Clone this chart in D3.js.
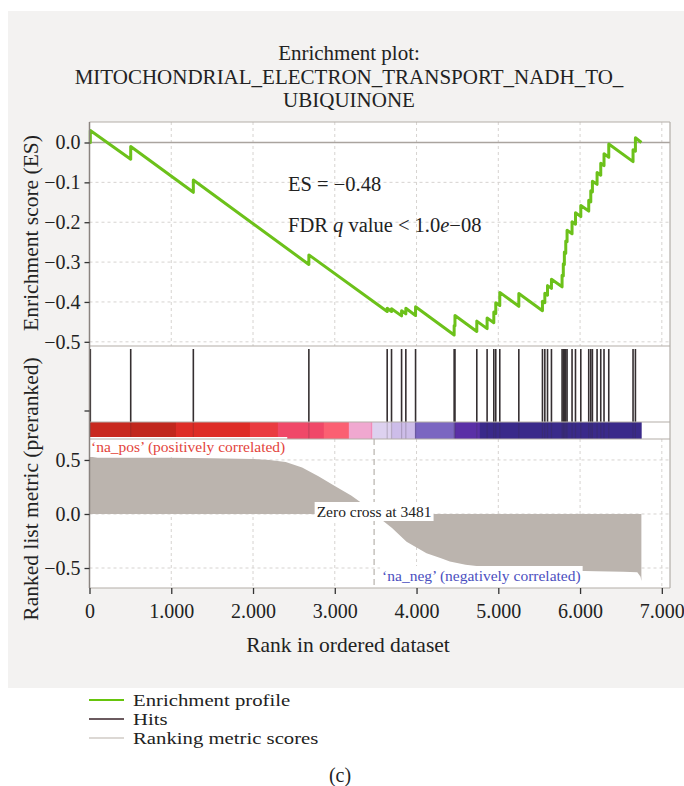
<!DOCTYPE html>
<html>
<head>
<meta charset="utf-8">
<script src="https://cdn.jsdelivr.net/npm/d3@7"></script>
<style>
  body { margin: 0; background: #ffffff; }
  svg { display: block; }
  text { font-family: "Liberation Serif", "Times New Roman", serif; }
</style>
</head>
<body>
<svg id="chart" width="684" height="786"></svg>
<script>
// ---- Gene set hits (rank positions in the ordered list) ----
const hitRanks = [10, 504, 1270, 2683, 3641, 3694, 3817, 3869, 3988, 4460, 4470, 4737,
  4863, 4945, 4969, 5018, 5251, 5540, 5569, 5602, 5650, 5780, 5795, 5808, 5825, 5841,
  5902, 5944, 6009, 6106, 6131, 6151, 6208, 6253, 6293, 6351, 6648, 6677];

// Running enrichment score just before and just after each hit
const esBefore = [0.000, -0.042, -0.125, -0.306, -0.424, -0.424, -0.435, -0.430, -0.434,
  -0.483, -0.460, -0.474, -0.467, -0.452, -0.429, -0.409, -0.411, -0.422, -0.402, -0.383,
  -0.366, -0.362, -0.335, -0.306, -0.278, -0.249, -0.229, -0.205, -0.186, -0.172, -0.149,
  -0.124, -0.105, -0.082, -0.058, -0.037, -0.048, -0.022];
const esAfter = [0.030, -0.010, -0.094, -0.282, -0.416, -0.417, -0.422, -0.416, -0.412,
  -0.459, -0.434, -0.448, -0.440, -0.425, -0.402, -0.376, -0.379, -0.398, -0.378, -0.359,
  -0.343, -0.333, -0.304, -0.275, -0.247, -0.220, -0.199, -0.176, -0.158, -0.145, -0.121,
  -0.097, -0.075, -0.052, -0.028, -0.004, -0.018, 0.012];

const totalGenes = 6750;
const zeroCross = 3481;
const esLabel = "ES = \u22120.48";

// ---- Ranked list metric (preranked) ----
const metricRanks = [0, 12, 15, 100, 500, 1000, 1500, 2000, 2200, 2400, 2600, 2800, 3000,
  3200, 3350, 3481, 3600, 3700, 3878, 4000, 4122, 4300, 4407, 4600, 4814, 5000, 5303,
  5600, 5915, 6200, 6526, 6700, 6740, 6750];
const metricValues = [0.60, 0.60, 0.53, 0.52, 0.52, 0.52, 0.515, 0.51, 0.50, 0.48, 0.43,
  0.35, 0.26, 0.17, 0.09, 0.0, -0.07, -0.13, -0.256, -0.31, -0.364, -0.41, -0.44, -0.47,
  -0.488, -0.50, -0.512, -0.52, -0.525, -0.53, -0.534, -0.54, -0.58, -0.62];

// ---- Heat bar under the hits ----
const barBreaks = [0, 504, 1057, 1962, 2304, 2866, 3172, 3441, 3460, 3698, 3980, 4468, 4774, 6750];
const barColors = ["#c8291f", "#c1271d", "#de2c26", "#ea3b40", "#f04868", "#fb6072",
  "#f0a8d0", "#f28ab8", "#ddd1ef", "#cdbde9", "#7b66c1", "#5a2fa6", "#3a2a8a"];

// ---- Axis ticks ----
const esTicks = [0.0, -0.1, -0.2, -0.3, -0.4, -0.5];
const metricTicks = [0.5, 0.0, -0.5];
const rankTicks = [0, 1000, 2000, 3000, 4000, 5000, 6000, 7000];
const rankTickLabels = ["0", "1.000", "2.000", "3.000", "4.000", "5.000", "6.000", "7.000"];

const legendLabels = ["Enrichment profile", "Hits", "Ranking metric scores"];
const legendColors = ["#66c40c", "#6b5a5f", "#dcd8d4"];

// ---- Layout ----
const L = 89.5, R = 670;
const esTop = 122, esBottom = 346;
const hitsTop = 346, hitsBottom = 422;
const barBottom = 439;
const mTop = 439, mBottom = 588;

const svg = d3.select("#chart");
const minus = s => s.replace("-", "\u2212");

// figure background
svg.append("rect").attr("x", 8).attr("y", 11).attr("width", 676).attr("height", 677)
  .attr("fill", "#f3f2f1");

const x = d3.scaleLinear().domain([0, 7100]).range([L, R]);
const yES = d3.scaleLinear().domain([-0.5105, 0.0514]).range([esBottom, esTop]);
const yM = d3.scaleLinear().domain([-0.685, 0.694]).range([mBottom, mTop]);

// plot background
svg.append("rect").attr("x", L).attr("y", esTop).attr("width", R - L).attr("height", mBottom - esTop)
  .attr("fill", "#ffffff");

// Title
const title = svg.append("text").attr("text-anchor", "middle").attr("font-size", 21).attr("fill", "#222");
[["Enrichment plot:", 60], ["MITOCHONDRIAL_ELECTRON_TRANSPORT_NADH_TO_", 84], ["UBIQUINONE", 107]]
  .forEach(([t, yy]) => title.append("tspan").attr("x", 349).attr("y", yy).text(t));

const gridColor = "#d6d3d0";

// ES panel grid
svg.append("g").selectAll("line").data(esTicks.filter(d => d !== 0)).join("line")
  .attr("x1", L).attr("x2", R).attr("y1", d => yES(d)).attr("y2", d => yES(d))
  .attr("stroke", gridColor).attr("stroke-dasharray", "3,3");
svg.append("g").selectAll("line").data(rankTicks.slice(1)).join("line")
  .attr("x1", d => x(d)).attr("x2", d => x(d)).attr("y1", esTop).attr("y2", esBottom)
  .attr("stroke", gridColor).attr("stroke-dasharray", "3,3");
// zero line
svg.append("line").attr("x1", L).attr("x2", R).attr("y1", yES(0)).attr("y2", yES(0))
  .attr("stroke", "#aaa49f").attr("stroke-width", 1.3);

// Metric panel grid
svg.append("g").selectAll("line").data(metricTicks).join("line")
  .attr("x1", L).attr("x2", R).attr("y1", d => yM(d)).attr("y2", d => yM(d))
  .attr("stroke", gridColor).attr("stroke-dasharray", "3,3");
svg.append("g").selectAll("line").data(rankTicks.slice(1)).join("line")
  .attr("x1", d => x(d)).attr("x2", d => x(d)).attr("y1", mTop).attr("y2", mBottom)
  .attr("stroke", gridColor).attr("stroke-dasharray", "3,3");

// Running enrichment score
const esPoints = [[0, 0]];
hitRanks.forEach((r, i) => { esPoints.push([r, esBefore[i]]); esPoints.push([r, esAfter[i]]); });
esPoints.push([totalGenes, 0]);
svg.append("path").datum(esPoints)
  .attr("d", d3.line().x(d => x(d[0])).y(d => yES(d[1])))
  .attr("fill", "none").attr("stroke", "#6cc11a").attr("stroke-width", 3).attr("stroke-linejoin", "round");

// Annotation
svg.append("text").attr("x", 288).attr("y", 191).attr("font-size", 20.5).attr("fill", "#222").text(esLabel);
const fdr = svg.append("text").attr("x", 288).attr("y", 232).attr("font-size", 20.5).attr("fill", "#222");
fdr.append("tspan").text("FDR ");
fdr.append("tspan").attr("font-style", "italic").text("q");
fdr.append("tspan").text(" value < 1.0");
fdr.append("tspan").attr("font-style", "italic").text("e");
fdr.append("tspan").text("\u221208");

// Heat bar
svg.append("g").selectAll("rect").data(barColors).join("rect")
  .attr("x", (d, i) => x(barBreaks[i])).attr("width", (d, i) => x(barBreaks[i + 1]) - x(barBreaks[i]) + 0.3)
  .attr("y", hitsBottom).attr("height", barBottom - hitsBottom).attr("fill", d => d);

// Hits
const hits = svg.append("g");
hits.selectAll("line.hit").data(hitRanks).join("line").attr("class", "hit")
  .attr("x1", d => x(d)).attr("x2", d => x(d)).attr("y1", hitsTop + 3).attr("y2", hitsBottom)
  .attr("stroke", "#352f31").attr("stroke-width", 1.6);
hits.selectAll("line.hitbar").data(hitRanks).join("line").attr("class", "hitbar")
  .attr("x1", d => x(d)).attr("x2", d => x(d)).attr("y1", hitsBottom).attr("y2", barBottom)
  .attr("stroke", "#352f31").attr("stroke-width", 1.2).attr("stroke-opacity", 0.22);

// Ranked metric area
svg.append("path").datum(metricRanks.map((r, i) => [r, metricValues[i]]))
  .attr("d", d3.area().x(d => x(d[0])).y0(yM(0)).y1(d => yM(d[1])))
  .attr("fill", "#bbb4ae");

// zero-cross marker
svg.append("line").attr("x1", x(zeroCross)).attr("x2", x(zeroCross)).attr("y1", mTop).attr("y2", mBottom)
  .attr("stroke", "#bdb8b3").attr("stroke-width", 1.3).attr("stroke-dasharray", "6,4");

function boxedLabel(tx, ty, txt, color, anchor) {
  const g = svg.append("g");
  const bg = g.append("rect").attr("fill", "#ffffff");
  const t = g.append("text").attr("x", tx).attr("y", ty).attr("font-size", 15.5)
    .attr("fill", color).attr("text-anchor", anchor).text(txt);
  const b = t.node().getBBox();
  bg.attr("x", b.x - 2).attr("y", b.y - 1).attr("width", b.width + 4).attr("height", b.height + 2);
}
boxedLabel(x(0) + 1.5, 452, "\u2018na_pos\u2019 (positively correlated)", "#e3443b", "start");
boxedLabel(x(zeroCross), 517, "Zero cross at " + zeroCross, "#222", "middle");
boxedLabel(x(zeroCross) + 8, 581, "\u2018na_neg\u2019 (negatively correlated)", "#4b4fc0", "start");

// Panel frames
const frame = "#b3ada8";
[esTop, esBottom, hitsBottom, barBottom, mBottom].forEach(yy =>
  svg.append("line").attr("x1", L).attr("x2", R).attr("y1", yy).attr("y2", yy).attr("stroke", frame).attr("stroke-width", 1.2));
svg.append("line").attr("x1", R).attr("x2", R).attr("y1", esTop).attr("y2", mBottom).attr("stroke", frame).attr("stroke-width", 1.2);
svg.append("line").attr("x1", L).attr("x2", L).attr("y1", esTop).attr("y2", mBottom).attr("stroke", "#8a8480").attr("stroke-width", 1.5);

// Axes
const tickFont = 20;
const esAxis = svg.append("g").attr("transform", `translate(${L},0)`)
  .call(d3.axisLeft(yES).tickValues(esTicks).tickSize(5).tickPadding(4).tickFormat(d => minus(d3.format(".1f")(d))));
const mAxis = svg.append("g").attr("transform", `translate(${L},0)`)
  .call(d3.axisLeft(yM).tickValues(metricTicks).tickSize(5).tickPadding(4).tickFormat(d => minus(d3.format(".1f")(d))));
const xAxis = svg.append("g").attr("transform", `translate(0,${mBottom})`)
  .call(d3.axisBottom(x).tickValues(rankTicks).tickSize(6).tickPadding(10).tickFormat((d, i) => rankTickLabels[i]));
[esAxis, mAxis, xAxis].forEach(a => {
  a.select(".domain").remove();
  a.selectAll(".tick line").attr("stroke", "#333").attr("stroke-width", 1.3);
  a.selectAll("text").attr("font-size", tickFont).attr("fill", "#222")
    .attr("font-family", "'Liberation Serif', 'Times New Roman', serif");
});
xAxis.selectAll("text").attr("dy", "0.71em");
// hits panel tick
svg.append("line").attr("x1", L - 5).attr("x2", L).attr("y1", 411).attr("y2", 411).attr("stroke", "#333").attr("stroke-width", 1.3);

// Axis titles
svg.append("text").attr("transform", "translate(38,233) rotate(-90)").attr("text-anchor", "middle")
  .attr("font-size", 21.5).attr("fill", "#222").text("Enrichment score (ES)");
svg.append("text").attr("transform", "translate(38,489) rotate(-90)").attr("text-anchor", "middle")
  .attr("font-size", 21.5).attr("fill", "#222").text("Ranked list metric (preranked)");
svg.append("text").attr("x", 348).attr("y", 652).attr("text-anchor", "middle")
  .attr("font-size", 21.5).attr("fill", "#222").text("Rank in ordered dataset");

// Legend: compact rows, glyphs widened to keep the row pitch tight
const lg = svg.append("g");
legendLabels.forEach((lab, i) => {
  const yy = 700 + i * 19;
  lg.append("line").attr("x1", 89).attr("x2", 124).attr("y1", yy).attr("y2", yy)
    .attr("stroke", legendColors[i]).attr("stroke-width", 1.8);
  lg.append("text").attr("transform", `translate(133,${yy + 6}) scale(1.22,1)`)
    .attr("font-size", 17).attr("fill", "#222").text(lab);
});

svg.append("text").attr("x", 340).attr("y", 782).attr("text-anchor", "middle")
  .attr("font-size", 20).attr("fill", "#222").text("(c)");
</script>
</body>
</html>
